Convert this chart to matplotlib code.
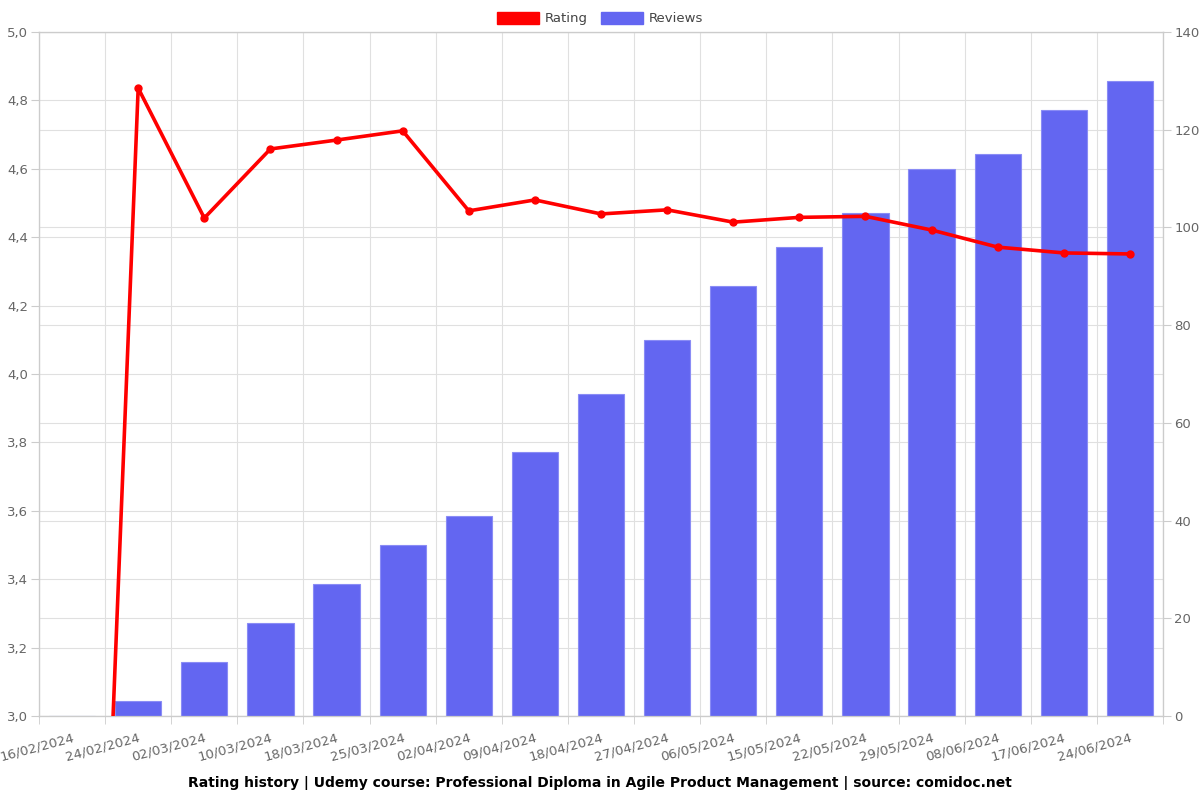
import matplotlib
matplotlib.use("Agg")
import matplotlib.pyplot as plt
import matplotlib.transforms as mtransforms
import numpy as np
from matplotlib.patches import Patch
from matplotlib.ticker import FuncFormatter, MultipleLocator, FixedLocator

dates = ["16/02/2024", "24/02/2024", "02/03/2024", "10/03/2024", "18/03/2024",
         "25/03/2024", "02/04/2024", "09/04/2024", "18/04/2024", "27/04/2024",
         "06/05/2024", "15/05/2024", "22/05/2024", "29/05/2024", "08/06/2024",
         "17/06/2024", "24/06/2024"]
reviews = [0, 3, 11, 19, 27, 35, 41, 54, 66, 77, 88, 96, 103, 112, 115, 124, 130]
rating = [0.0, 4.836, 4.456, 4.658, 4.684, 4.711, 4.477, 4.509, 4.468, 4.48,
          4.444, 4.458, 4.461, 4.421, 4.371, 4.354, 4.351]

fig = plt.figure(figsize=(12, 8), dpi=100)
ax = fig.add_axes([39/1200, 84/800, 1124/1200, 684/800])
ax2 = ax.twinx()
ax3 = ax.twinx()

x = np.arange(len(dates))
grid_c = "#e0e0e0"
tick_c = "#666666"
fs = 9.5

# left axis: rating scale + grids (bottom layer)
ax.set_ylim(3.0, 5.0)
ax.set_xlim(-0.5, len(dates) - 0.5)
ax.yaxis.set_major_locator(MultipleLocator(0.2))
ax.yaxis.set_major_formatter(FuncFormatter(lambda v, p: f"{v:.1f}".replace(".", ",")))
ax.set_xticks(x)
ax.set_xticklabels(dates, rotation=15, ha="right", rotation_mode="anchor")
offset = mtransforms.ScaledTranslation(4/100, 0, fig.dpi_scale_trans)
for lbl in ax.get_xticklabels():
    lbl.set_transform(lbl.get_transform() + offset)
ax.xaxis.set_minor_locator(FixedLocator(np.arange(-0.5, len(dates), 1.0)))
ax.tick_params(axis="x", which="major", length=0, pad=11, labelsize=fs, labelcolor=tick_c)
ax.tick_params(axis="x", which="minor", length=6, color="#cccccc")
ax.tick_params(axis="y", length=6, color="#cccccc", labelsize=fs, labelcolor=tick_c, pad=2)
ax.grid(True, axis="y", color=grid_c, linewidth=0.8)
ax.grid(True, axis="x", which="minor", color=grid_c, linewidth=0.8)

# right axis: reviews bars
ax2.set_ylim(0, 140)
ax2.yaxis.set_major_locator(MultipleLocator(20))
ax2.set_axisbelow(True)
ax2.grid(True, axis="y", color=grid_c, linewidth=0.8)
ax2.bar(x, reviews, width=0.7, color="#6366f1", edgecolor="#8a8cf5", linewidth=0.8, zorder=2)
ax2.tick_params(axis="y", length=6, color="#cccccc", labelsize=fs, labelcolor=tick_c, pad=2)

# overlay: rating line
ax3.set_ylim(3.0, 5.0)
ax3.set_yticks([])
ax3.plot(x, rating, color="#ff0000", linewidth=2.6, marker="o", markersize=5, zorder=5)

for a in (ax, ax2, ax3):
    for s in a.spines.values():
        s.set_color("#cccccc")
        s.set_linewidth(0.8)

handles = [Patch(facecolor="#ff0000", edgecolor="#ff0000", label="Rating"),
           Patch(facecolor="#6366f1", edgecolor="#6366f1", label="Reviews")]
fig.legend(handles=handles, loc="upper center", bbox_to_anchor=(0.5, 1.0), ncol=2,
           frameon=False, fontsize=9.5, handlelength=3.2, handleheight=1.0,
           columnspacing=1.0, handletextpad=0.4, labelcolor="#444444")

fig.text(0.5, 0.013, "Rating history | Udemy course: Professional Diploma in Agile Product Management | source: comidoc.net",
         ha="center", va="bottom", fontsize=10, fontweight="bold")

fig.savefig("out.png", dpi=100)
